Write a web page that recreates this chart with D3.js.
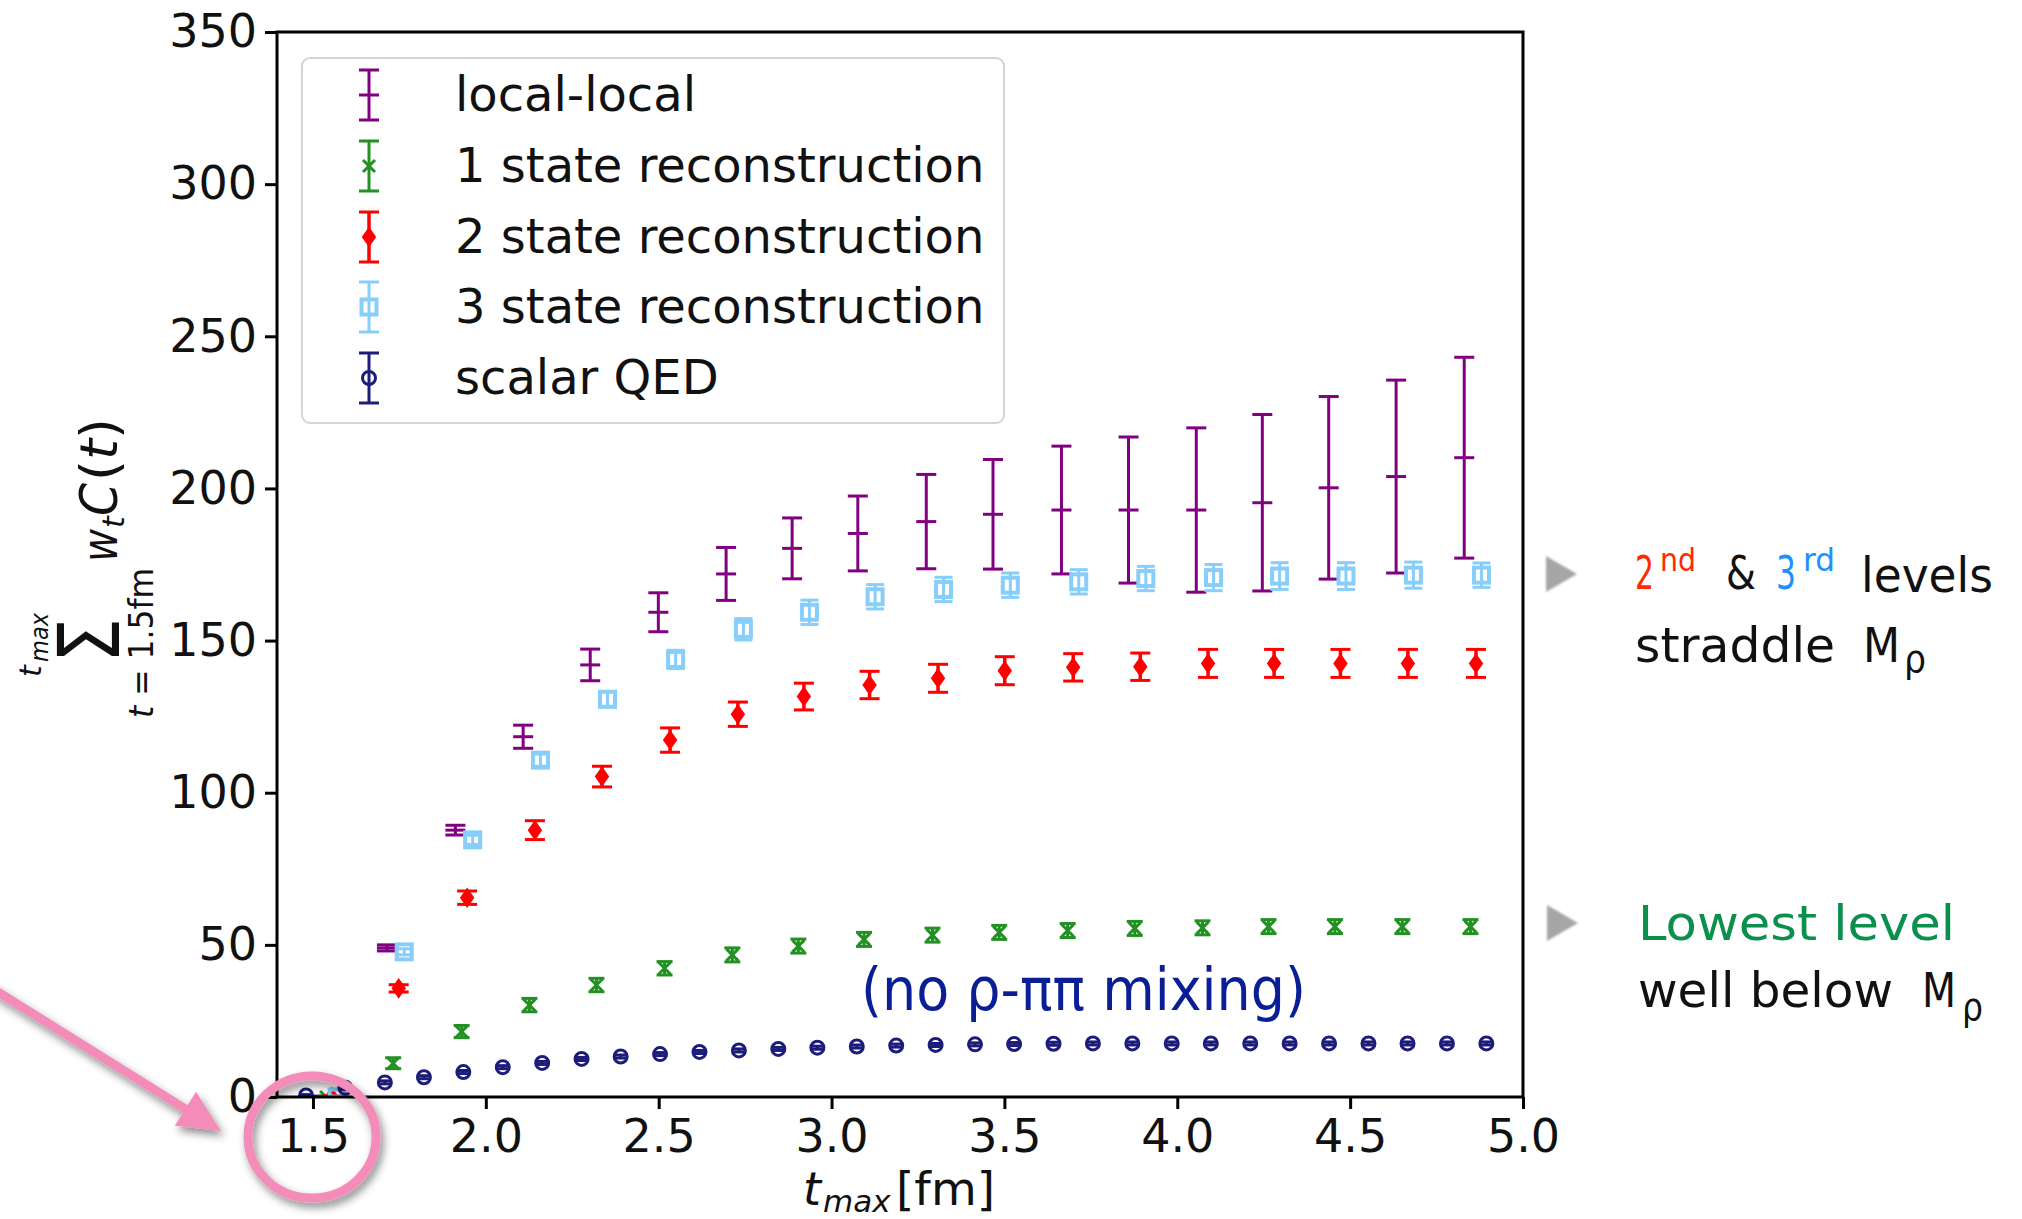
<!DOCTYPE html>
<html><head><meta charset="utf-8">
<script src="https://cdn.jsdelivr.net/npm/d3@7"></script>
<style>body{margin:0;background:#fff}svg{display:block}</style>
</head><body><svg id="c" width="2022" height="1219"></svg>
<script>
// ---------- data ----------
const tmaxBase = [1.52, 1.714, 1.912, 2.108, 2.302, 2.499, 2.695, 2.886, 3.076, 3.274, 3.467, 3.665, 3.859, 4.055, 4.246, 4.438, 4.633, 4.83];
const seriesShift = [0, 0.018, 0.034, 0.05];
const seriesNames = ["local-local", "1 state reconstruction", "2 state reconstruction", "3 state reconstruction", "scalar QED"];
const localLocal    = [0, 49, 87.7, 118.4, 142, 159.3, 171.9, 180.3, 185.2, 189.1, 191.5, 192.9, 192.9, 192.9, 195.3, 200.2, 203.9, 210.1];
const localLocalErr = [0.3, 1, 1.6, 3.8, 5.2, 6.4, 8.7, 10, 12.3, 15.5, 18, 21, 24, 27, 29, 30, 31.7, 33];
const state1    = [0, 11.1, 21.5, 30.2, 36.8, 42.3, 46.7, 49.6, 51.8, 53.2, 54.1, 54.7, 55.4, 55.6, 56, 56, 56, 56];
const state1Err = [0.3, 1.8, 2, 2.2, 2.2, 2.2, 2.3, 2.3, 2.3, 2.3, 2.3, 2.3, 2.3, 2.3, 2.3, 2.3, 2.3, 2.3];
const state2    = [0, 35.7, 65.5, 87.7, 105.3, 117.3, 125.8, 131.6, 135.4, 137.6, 140.1, 141.2, 141.4, 142.5, 142.5, 142.5, 142.5, 142.5];
const state2Err = [0.3, 1.2, 2.2, 3.1, 3.4, 4, 4, 4.4, 4.5, 4.6, 4.6, 4.5, 4.5, 4.6, 4.6, 4.6, 4.6, 4.6];
const state3    = [0, 47.7, 84.5, 110.7, 130.7, 143.8, 153.7, 159.3, 164.4, 166.8, 168.2, 169.3, 170.4, 170.7, 171.2, 171.2, 171.5, 171.5];
const state3Err = [0.3, 1, 1.5, 2, 2.5, 3, 3.5, 4, 4, 4, 4, 4, 4, 4.3, 4.4, 4.4, 4.3, 4];
const scalarQEDx = [1.48, 1.594, 1.708, 1.821, 1.935, 2.049, 2.163, 2.277, 2.39, 2.504, 2.618, 2.732, 2.846, 2.959, 3.073, 3.187, 3.301, 3.415, 3.528, 3.642, 3.756, 3.87, 3.984, 4.097, 4.211, 4.325, 4.439, 4.553, 4.666, 4.78, 4.894];
const scalarQED    = [0.5, 3, 4.8, 6.5, 8.2, 9.8, 11.2, 12.5, 13.3, 14.1, 14.8, 15.3, 15.8, 16.2, 16.6, 16.9, 17.1, 17.3, 17.4, 17.5, 17.6, 17.6, 17.6, 17.6, 17.6, 17.6, 17.6, 17.6, 17.6, 17.6, 17.6];
const scalarQEDErr = [0.3, 0.5, 0.5, 0.5, 0.5, 0.5, 0.5, 0.5, 0.5, 0.5, 0.5, 0.5, 0.5, 0.5, 0.5, 0.5, 0.5, 0.5, 0.5, 0.5, 0.5, 0.5, 0.5, 0.5, 0.5, 0.5, 0.5, 0.5, 0.5, 0.5, 0.5];
const xTicks = [1.5, 2.0, 2.5, 3.0, 3.5, 4.0, 4.5, 5.0];
const yTicks = [0, 50, 100, 150, 200, 250, 300, 350];

// ---------- layout ----------
const L = 277, R = 1523, T = 32, B = 1097;
const FONT = "'DejaVu Sans', sans-serif";
const svg = d3.select("#c");
const x = d3.scaleLinear().domain([1.396, 5.0]).range([L, R]);
const y = d3.scaleLinear().domain([0, 350]).range([B, T]);

const defs = svg.append("defs");
defs.append("clipPath").attr("id", "plotclip").append("rect")
  .attr("x", L).attr("y", T).attr("width", R - L).attr("height", B - T);
const sh = defs.append("filter").attr("id", "shadow").attr("x", "-30%").attr("y", "-30%").attr("width", "160%").attr("height", "160%");
sh.append("feDropShadow").attr("dx", 3).attr("dy", 5).attr("stdDeviation", 4)
  .attr("flood-color", "#000").attr("flood-opacity", 0.45);
const bl = defs.append("filter").attr("id", "soft");
bl.append("feGaussianBlur").attr("stdDeviation", 1.2);

// series definitions
const series = [
  {name: seriesNames[0], xs: tmaxBase.map(v => v + seriesShift[0]), vs: localLocal, es: localLocalErr, color: "#800080", marker: "hline", cap: 10, lw: 3},
  {name: seriesNames[1], xs: tmaxBase.map(v => v + seriesShift[1]), vs: state1, es: state1Err, color: "#239023", marker: "x", cap: 8, lw: 3},
  {name: seriesNames[2], xs: tmaxBase.map(v => v + seriesShift[2]), vs: state2, es: state2Err, color: "#ff0000", marker: "dot", cap: 10, lw: 3.5},
  {name: seriesNames[3], xs: tmaxBase.map(v => v + seriesShift[3]), vs: state3, es: state3Err, color: "#87cefa", marker: "square", cap: 9, lw: 3},
  {name: seriesNames[4], xs: scalarQEDx, vs: scalarQED, es: scalarQEDErr, color: "#1c1c7a", marker: "circle", cap: 7, lw: 3}
];

function drawMarker(g, s, cx, cy) {
  const c = s.color;
  if (s.marker === "hline") {
    g.append("line").attr("x1", cx - 10).attr("x2", cx + 10).attr("y1", cy).attr("y2", cy)
      .attr("stroke", c).attr("stroke-width", 3);
  } else if (s.marker === "x") {
    const r = 6;
    g.append("path").attr("d", `M${cx - r},${cy - r}L${cx + r},${cy + r}M${cx - r},${cy + r}L${cx + r},${cy - r}`)
      .attr("stroke", c).attr("stroke-width", 3).attr("fill", "none");
  } else if (s.marker === "dot") {
    g.append("path").attr("d", d3.symbol().type(d3.symbolDiamond).size(150)())
      .attr("transform", `translate(${cx},${cy}) scale(1.1,0.9)`).attr("fill", c);
  } else if (s.marker === "square") {
    g.append("rect").attr("x", cx - 7.5).attr("y", cy - 7.5).attr("width", 15).attr("height", 15)
      .attr("fill", "none").attr("stroke", c).attr("stroke-width", 4);
  } else if (s.marker === "circle") {
    g.append("circle").attr("cx", cx).attr("cy", cy).attr("r", 6.5)
      .attr("fill", "none").attr("stroke", c).attr("stroke-width", 3);
  }
}
function drawErr(g, s, cx, y1, y2) {
  g.append("line").attr("x1", cx).attr("x2", cx).attr("y1", y1).attr("y2", y2)
    .attr("stroke", s.color).attr("stroke-width", s.lw);
  [y1, y2].forEach(yy => g.append("line").attr("x1", cx - s.cap).attr("x2", cx + s.cap)
    .attr("y1", yy).attr("y2", yy).attr("stroke", s.color).attr("stroke-width", 3));
}

// data layer
const dataG = svg.append("g").attr("clip-path", "url(#plotclip)");
series.forEach(s => {
  const g = dataG.append("g");
  s.xs.forEach((xv, i) => {
    const cx = x(xv), cy = y(s.vs[i]);
    drawErr(g, s, cx, y(s.vs[i] + s.es[i]), y(s.vs[i] - s.es[i]));
    drawMarker(g, s, cx, cy);
  });
});

// axes
const yAx = svg.append("g").attr("transform", `translate(${L},0)`)
  .call(d3.axisLeft(y).tickValues(yTicks).tickFormat(d3.format("d")).tickSize(12).tickSizeOuter(0).tickPadding(8));
const xAx = svg.append("g").attr("transform", `translate(0,${B})`)
  .call(d3.axisBottom(x).tickValues(xTicks).tickFormat(d3.format(".1f")).tickSize(12).tickSizeOuter(0).tickPadding(10));
[yAx, xAx].forEach(a => {
  a.select(".domain").remove();
  a.selectAll(".tick line").attr("stroke", "#000").attr("stroke-width", 3);
  a.selectAll(".tick text").attr("fill", "#111").style("font-family", FONT).style("font-size", "46px");
});
svg.append("rect").attr("x", L).attr("y", T).attr("width", R - L).attr("height", B - T)
  .attr("fill", "none").attr("stroke", "#000").attr("stroke-width", 3);

// x label
const xl = svg.append("text").attr("y", 1205).style("font-family", FONT).attr("fill", "#111");
xl.append("tspan").attr("x", 803).style("font-size", "46px").style("font-style", "italic").text("t");
xl.append("tspan").attr("x", 823).attr("y", 1212).style("font-size", "31px").style("font-style", "italic").text("max");
xl.append("tspan").attr("x", 896).attr("y", 1205).style("font-size", "47px").text("[fm]");

// y label (rotated)
const yl = svg.append("g").attr("transform", "translate(117,718) rotate(-90)")
  .style("font-family", FONT).attr("fill", "#111");
const sub = yl.append("text").attr("x", 0).attr("y", 36).style("font-size", "33px")
  .attr("textLength", 150).attr("lengthAdjust", "spacingAndGlyphs");
sub.append("tspan").style("font-style", "italic").text("t");
sub.append("tspan").text(" = 1.5fm");
yl.append("text").attr("x", 55).attr("y", 2).style("font-size", "86px")
  .attr("textLength", 45).attr("lengthAdjust", "spacingAndGlyphs").text("\u03a3");
yl.append("text").attr("x", 41).attr("y", -76).style("font-size", "30px").style("font-style", "italic").text("t");
yl.append("text").attr("x", 56).attr("y", -69).style("font-size", "25px").style("font-style", "italic")
  .attr("textLength", 49).attr("lengthAdjust", "spacingAndGlyphs").text("max");
yl.append("text").attr("x", 156).attr("y", 0).style("font-size", "50px").style("font-style", "italic")
  .attr("textLength", 33).attr("lengthAdjust", "spacingAndGlyphs").text("w");
yl.append("text").attr("x", 190).attr("y", 7).style("font-size", "30px").style("font-style", "italic").text("t");
yl.append("text").attr("x", 202).attr("y", 0).style("font-size", "52px").style("font-style", "italic")
  .attr("textLength", 33).attr("lengthAdjust", "spacingAndGlyphs").text("C");
const par = yl.append("text").attr("x", 237).attr("y", 0).style("font-size", "52px")
  .attr("textLength", 63).attr("lengthAdjust", "spacingAndGlyphs");
par.append("tspan").text("(");
par.append("tspan").style("font-style", "italic").text("t");
par.append("tspan").text(")");

// legend
const lg = svg.append("g");
lg.append("rect").attr("x", 302).attr("y", 58).attr("width", 702).attr("height", 365).attr("rx", 8)
  .attr("fill", "#fff").attr("fill-opacity", 0.85).attr("stroke", "#d4d4d4").attr("stroke-width", 2);
const rowY = [95, 166, 237, 307, 378];
series.forEach((s, i) => {
  const cy = rowY[i], cx = 369;
  const s2 = Object.assign({}, s, {cap: 10});
  drawErr(lg, s2, cx, cy - 25, cy + 25);
  drawMarker(lg, s, cx, cy);
  lg.append("text").attr("x", 455).attr("y", cy + 16).style("font-family", FONT).style("font-size", "48px")
    .attr("fill", "#111").text(s.name);
});

// annotations (pink arrow + circle)
const pink = "#f48cb9";
const ann = svg.append("g").attr("filter", "url(#shadow)");
ann.append("ellipse").attr("cx", 312).attr("cy", 1137).attr("rx", 64).attr("ry", 61)
  .attr("fill", "none").attr("stroke", pink).attr("stroke-width", 9);
ann.append("line").attr("x1", -10).attr("y1", 987).attr("x2", 187).attr("y2", 1110)
  .attr("stroke", pink).attr("stroke-width", 9);
ann.append("path").attr("d", "M221,1131L174.8,1125.7L196,1091.7Z").attr("fill", pink);

// right side notes
const tri = svg.append("g").attr("filter", "url(#soft)").attr("fill", "#a6a6a6");
tri.append("path").attr("d", "M1546,556L1577,574L1546,592Z");
tri.append("path").attr("d", "M1547,905L1578,923L1547,941Z");

const NF = "'DejaVu Sans', sans-serif";
function t(xp, yp, str, size, color, len) {
  const e = svg.append("text").attr("x", xp).attr("y", yp).style("font-family", NF).style("font-size", size + "px")
    .attr("fill", color).text(str);
  if (len) e.attr("textLength", len).attr("lengthAdjust", "spacingAndGlyphs");
  return e;
}
t(1635, 589, "2", 46, "#ff2a00", 19);
t(1660, 571, "nd", 32, "#ff2a00", 36);
t(1726, 589, "&", 46, "#111", 30);
t(1776, 589, "3", 46, "#1e90ff", 20);
t(1803, 571, "rd", 32, "#1e90ff", 32);
t(1861, 592, "levels", 48, "#111", 132);
t(1635, 662, "straddle", 48, "#111", 200);
t(1863, 662, "M", 48, "#111", 37);
t(1904, 672, "\u03c1", 38, "#111", 22);
t(1638, 940, "Lowest level", 48, "#0b8f4d", 317);
t(1638, 1007, "well below", 48, "#111", 255);
t(1922, 1007, "M", 48, "#111", 34);
t(1962, 1020, "\u03c1", 38, "#111", 21);
t(861, 1010, "(no \u03c1-\u03c0\u03c0 mixing)", 58, "#0a1e96", 445);
</script></body></html>
